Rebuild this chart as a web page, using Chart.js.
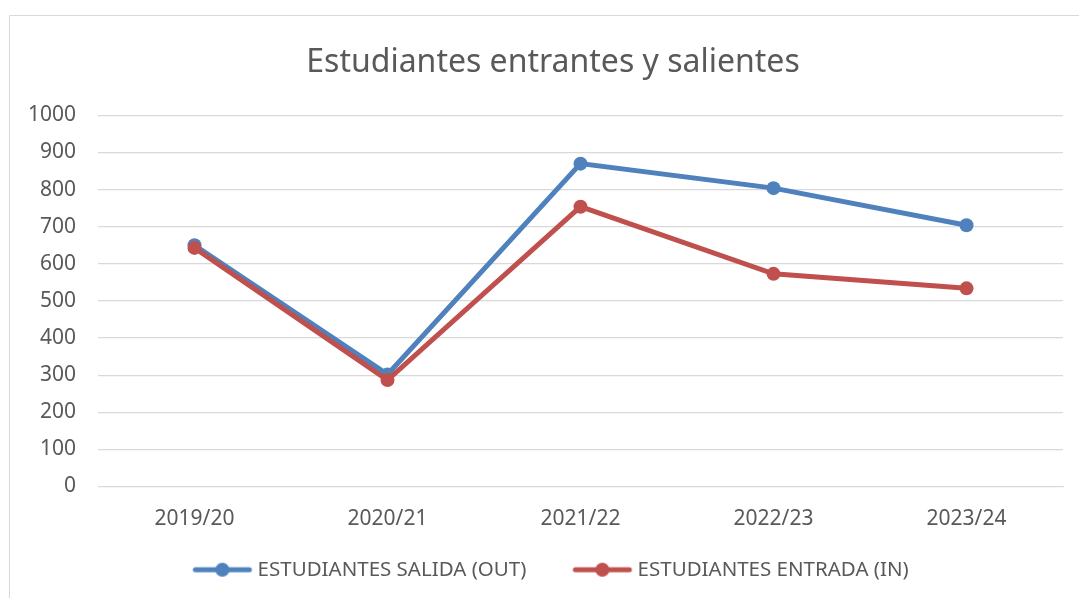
<!DOCTYPE html>
<html>
<head>
<meta charset="utf-8">
<script src="https://cdn.jsdelivr.net/npm/chart.js@4"></script>
<style>
html,body{margin:0;padding:0;background:#fff;}
#wrap{position:relative;width:1079px;height:598px;}
</style>
</head>
<body>
<div id="wrap"><canvas id="c" width="1079" height="598"></canvas></div>
<script>
const categories = ['2019/20', '2020/21', '2021/22', '2022/23', '2023/24'];
const salidaOut = [650, 302, 870, 804, 704];
const entradaIn = [643, 287, 754, 573, 534];
const seriesNames = ['ESTUDIANTES SALIDA (OUT)', 'ESTUDIANTES ENTRADA (IN)'];
const titleText = 'Estudiantes entrantes y salientes';

const BLUE = '#4f81bd', RED = '#c0504d', TEXT = '#595959', GRID = '#d9d9d9';
const FONT = "'Noto Sans', 'Open Sans', sans-serif";

function legendIcon(color){
  const cv = document.createElement('canvas');
  cv.width = 64; cv.height = 16;
  const x = cv.getContext('2d');
  x.strokeStyle = color; x.lineWidth = 5; x.lineCap = 'round';
  x.beginPath(); x.moveTo(5, 8); x.lineTo(59, 8); x.stroke();
  x.fillStyle = color; x.beginPath(); x.arc(32, 8, 7, 0, Math.PI*2); x.fill();
  return cv;
}
const icons = [legendIcon(BLUE), legendIcon(RED)];

const frame = {
  id: 'frame',
  beforeDraw(chart){
    const c = chart.ctx;
    c.save();
    c.fillStyle = '#fff';
    c.fillRect(0,0,chart.width,chart.height);
    c.strokeStyle = '#d9d9d9'; c.lineWidth = 1;
    c.beginPath();
    c.moveTo(9.5, chart.height); c.lineTo(9.5, 15.5); c.lineTo(chart.width, 15.5);
    c.stroke();
    c.restore();
  }
};

new Chart(document.getElementById('c'), {
  type: 'line',
  data: {
    labels: categories,
    datasets: [
      { label: seriesNames[0], data: salidaOut, borderColor: BLUE, backgroundColor: BLUE,
        borderWidth: 5, pointRadius: 7, pointHoverRadius: 7, pointBorderWidth: 0,
        pointStyle: 'circle', tension: 0, order: 2 },
      { label: seriesNames[1], data: entradaIn, borderColor: RED, backgroundColor: RED,
        borderWidth: 5, pointRadius: 7, pointHoverRadius: 7, pointBorderWidth: 0,
        pointStyle: 'circle', tension: 0, order: 1 }
    ]
  },
  options: {
    responsive: false,
    animation: false,
    devicePixelRatio: 1,
    layout: { padding: { left: 27, right: 0, top: 0, bottom: 8 } },
    plugins: {
      title: {
        display: true, text: titleText, color: TEXT,
        font: { family: FONT, size: 32, weight: 'normal' },
        padding: { top: 44, bottom: 33 }
      },
      legend: {
        display: true, position: 'bottom',
        labels: {
          color: TEXT, font: { family: FONT, size: 20.5 },
          usePointStyle: true, pointStyleWidth: 50, padding: 51,
          generateLabels(chart){
            return chart.data.datasets.map((d, i) => ({
              text: d.label, fillStyle: d.borderColor, strokeStyle: d.borderColor,
              fontColor: TEXT, pointStyle: icons[i], lineWidth: 0, datasetIndex: i, hidden: false
            }));
          }
        }
      },
      tooltip: { enabled: false }
    },
    scales: {
      x: {
        offset: true,
        grid: { display: false, drawTicks: false },
        border: { display: true, color: GRID, width: 1 },
        ticks: { color: TEXT, font: { family: FONT, size: 21 }, padding: -45, mirror: true },
        afterFit(scale){ scale.height = 22; scale.paddingRight = 16; }
      },
      y: {
        min: 0, max: 1000,
        ticks: { stepSize: 100, color: TEXT, font: { family: FONT, size: 21 }, padding: 22,
                 callback: (v) => String(v) },
        grid: { color: GRID, lineWidth: 1.3, drawTicks: false },
        border: { display: false },
        afterFit(scale){ scale.width = 71; }
      }
    }
  },
  plugins: [frame]
});
</script>
</body>
</html>
